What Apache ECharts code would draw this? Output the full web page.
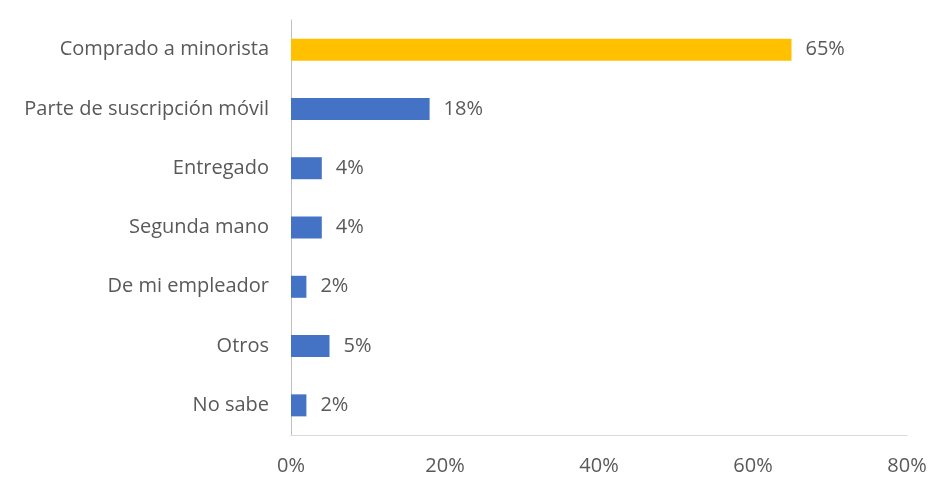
<!DOCTYPE html>
<html>
<head>
<meta charset="utf-8">
<script src="https://cdn.jsdelivr.net/npm/echarts@6/dist/echarts.min.js"></script>
<style>
  html, body { margin: 0; padding: 0; background: #ffffff; }
  #chart { width: 934px; height: 482px; }
</style>
</head>
<body>
<div id="chart"></div>
<script>
// Origen del dispositivo (porcentaje de encuestados)
const categories = [
  'Comprado a minorista',
  'Parte de suscripción móvil',
  'Entregado',
  'Segunda mano',
  'De mi empleador',
  'Otros',
  'No sabe'
];
const values = [65, 18, 4, 4, 2, 5, 2];
const tickValues = [0, 20, 40, 60, 80];

const highlightColor = '#FFC000';
const baseColor = '#4472C4';
const textColor = '#595959';
const fontFamily = '"Open Sans", sans-serif';
const fontSize = 20;

const chart = echarts.init(document.getElementById('chart'));
chart.setOption({
  animation: false,
  backgroundColor: '#ffffff',
  grid: { left: 291, right: 27, top: 20, bottom: 47, containLabel: false },
  xAxis: {
    type: 'value',
    min: tickValues[0],
    max: tickValues[tickValues.length - 1],
    interval: tickValues[1] - tickValues[0],
    axisLine: { show: true, lineStyle: { color: '#d9d9d9', width: 1 } },
    axisTick: { show: false },
    splitLine: { show: false },
    axisLabel: {
      color: textColor, fontSize: fontSize, fontFamily: fontFamily, margin: 21,
      formatter: v => v + '%'
    }
  },
  yAxis: {
    type: 'category',
    inverse: true,
    data: categories,
    axisLine: { show: true, lineStyle: { color: '#bfbfbf', width: 1 } },
    axisTick: { show: false },
    axisLabel: { color: textColor, fontSize: fontSize, fontFamily: fontFamily, margin: 22 }
  },
  series: [{
    type: 'bar',
    barWidth: 22,
    data: values.map((v, i) => ({
      value: v,
      itemStyle: { color: i === 0 ? highlightColor : baseColor }
    })),
    label: {
      show: true,
      position: 'right',
      distance: 14,
      color: textColor,
      fontSize: fontSize,
      fontFamily: fontFamily,
      formatter: p => p.value + '%'
    }
  }]
});
</script>
</body>
</html>
